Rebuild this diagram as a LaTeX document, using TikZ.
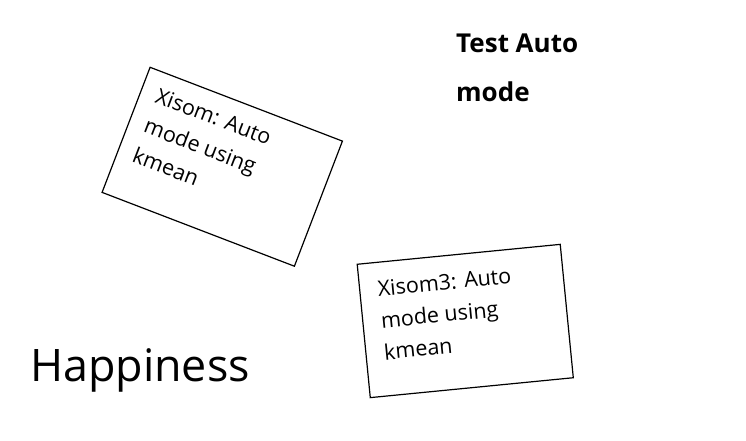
\documentclass[tikz,border=0pt]{standalone}
\usepackage{fontspec}
\setmainfont{Open Sans}

\begin{document}
\begin{tikzpicture}[
		x=1pt, y=-1pt,
		note/.style={draw, line width=1.2pt, minimum width=206pt, minimum height=134pt, inner sep=0pt},
		notetext/.style={anchor=north west, align=left, inner sep=0pt, font=\fontsize{21.5}{32}\selectfont},
	]
	\useasboundingbox (0,0) rectangle (746,441);

	\begin{scope}[shift={(222.25,166.75)}, rotate=-21, transform shape]
		\node[note] (xisom) at (0,0) {};
		\node[notetext] (xisomtext) at (-87,-52) {Xisom: Auto\\mode using\\kmean};
	\end{scope}

	\begin{scope}[shift={(465.25,321)}, rotate=5.6, transform shape]
		\node[note, minimum width=204pt] (xisomthree) at (0,0) {};
		\node[notetext] (xisomthreetext) at (-84,-49) {Xisom3: Auto\\mode using\\kmean};
	\end{scope}

	\node[anchor=north west, align=left, inner sep=0pt, font=\bfseries\fontsize{26}{49}\selectfont] (test) at (456,34) {Test Auto\\mode};
	\node[anchor=base west, inner sep=0pt, font=\fontsize{44.8}{48}\selectfont] (happiness) at (30,381) {Happiness};
\end{tikzpicture}
\end{document}
